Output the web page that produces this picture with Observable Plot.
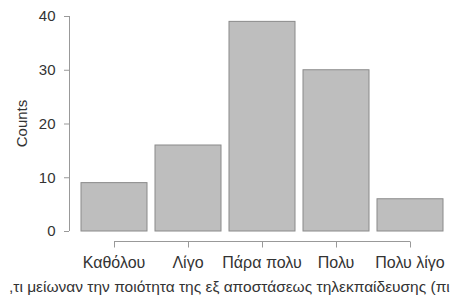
<!DOCTYPE html>
<html><head><meta charset="utf-8">
<script src="https://cdn.jsdelivr.net/npm/d3@7"></script>
<script src="https://cdn.jsdelivr.net/npm/@observablehq/plot@0.6"></script>
<style>body{margin:0;background:#fff}svg{display:block}</style>
</head><body><div id="chart"></div>
<script>
const categories = ["Καθόλου", "Λίγο", "Πάρα πολυ", "Πολυ", "Πολυ λίγο"];
const counts = [9, 16, 39, 30, 6];
const yTicks = [0, 10, 20, 30, 40];
const yLabel = "Counts";
const xLabel = ",τι μείωναν την ποιότητα της εξ αποστάσεως τηλεκπαίδευσης (πι";

const data = categories.map((c, i) => ({category: c, count: counts[i]}));
const font = "Liberation Sans, Arial, sans-serif";
const fs = 15;

const chart = Plot.plot({
  width: 455, height: 301,
  marginLeft: 69, marginRight: 8, marginTop: 16, marginBottom: 70,
  style: {fontFamily: font, fontSize: fs + "px", color: "#333", background: "#fff"},
  x: {type: "band", domain: categories, range: [77, 447], paddingInner: 0.108, paddingOuter: 0.054, axis: null},
  y: {domain: [0, 40], axis: null},
  marks: [
    Plot.barY(data, {x: "category", y: "count", fill: "#bebebe", stroke: "#8a8a8a", strokeWidth: 1}),
    Plot.axisY({ticks: yTicks, tickSize: 5, tickPadding: 9, stroke: "#999", fill: "#333", fontSize: fs, label: null}),
    (index, scales) => {
      const g = d3.create("svg:g").attr("text-anchor", "middle");
      const x = scales.x, y = scales.y, bw = x.bandwidth() / 2;
      // y axis line
      g.append("line").attr("x1", 69.5).attr("x2", 69.5)
        .attr("y1", y(40)).attr("y2", y(0)).attr("stroke", "#999");
      // x axis line and ticks
      const yl = y(0) + 10.5;
      const x0 = x(categories[0]) + bw, x1 = x(categories[categories.length - 1]) + bw;
      g.append("line").attr("x1", x0).attr("x2", x1).attr("y1", yl).attr("y2", yl).attr("stroke", "#999");
      for (const c of categories) {
        const cx = Math.round(x(c) + bw) + 0.5;
        g.append("line").attr("x1", cx).attr("x2", cx).attr("y1", yl).attr("y2", yl + 6).attr("stroke", "#999");
        g.append("text").attr("x", x(c) + bw).attr("y", yl + 26).attr("text-anchor", "middle")
          .attr("fill", "#333").attr("font-size", 16).attr("font-family", font).text(c);
      }
      g.append("text").attr("x", 9).attr("y", yl + 50).attr("text-anchor", "start").attr("fill", "#333")
        .attr("font-size", 15.5).attr("font-family", font).text(xLabel);
      g.append("text").attr("transform", `translate(27,${(y(0) + y(40)) / 2}) rotate(-90)`)
        .attr("text-anchor", "middle").attr("fill", "#333").attr("font-size", fs)
        .attr("font-family", font).text(yLabel);
      return g.node();
    }
  ]
});
document.getElementById("chart").append(chart);
</script></body></html>
